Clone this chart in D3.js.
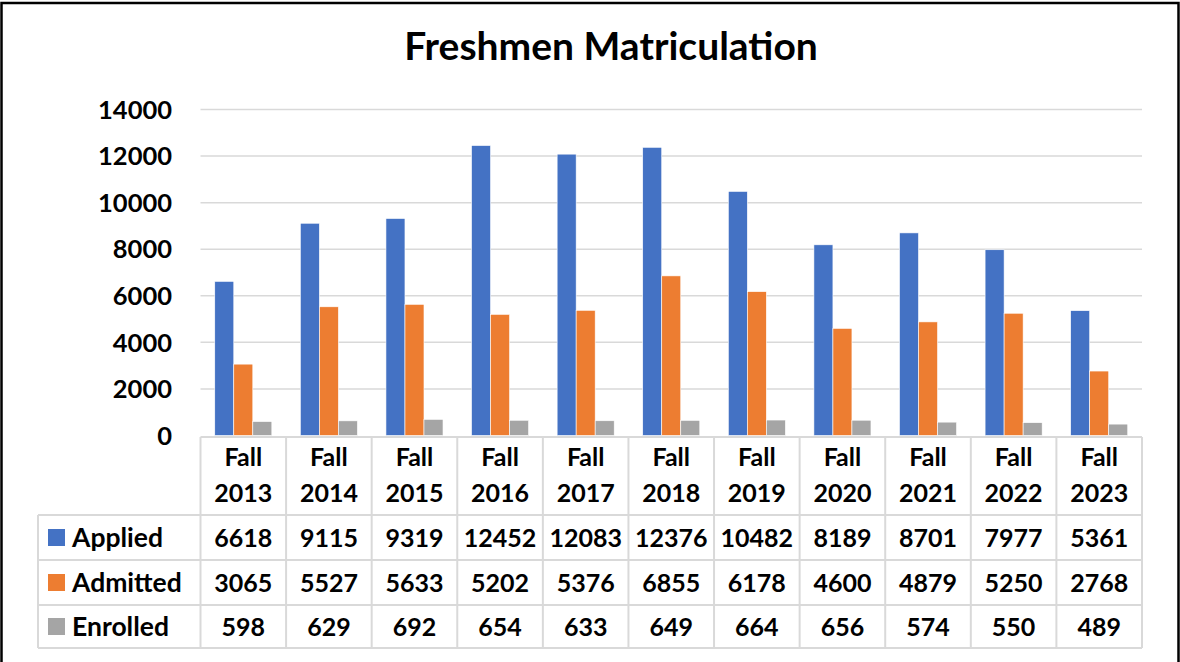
<!DOCTYPE html>
<html>
<head>
<meta charset="utf-8">
<script src="https://cdn.jsdelivr.net/npm/d3@7"></script>
<style>
  html, body { margin: 0; padding: 0; background: #fff; }
  svg { display: block; }
  text { font-family: Lato, "Open Sans", sans-serif; font-weight: bold; fill: #000; }
</style>
</head>
<body>
<script>
var categories = ["Fall 2013", "Fall 2014", "Fall 2015", "Fall 2016", "Fall 2017", "Fall 2018",
                  "Fall 2019", "Fall 2020", "Fall 2021", "Fall 2022", "Fall 2023"];
var seriesNames = ["Applied", "Admitted", "Enrolled"];
var applied  = [6618, 9115, 9319, 12452, 12083, 12376, 10482, 8189, 8701, 7977, 5361];
var admitted = [3065, 5527, 5633, 5202, 5376, 6855, 6178, 4600, 4879, 5250, 2768];
var enrolled = [598, 629, 692, 654, 633, 649, 664, 656, 574, 550, 489];
var yTicks = [0, 2000, 4000, 6000, 8000, 10000, 12000, 14000];
var colors = ["#4472C4", "#ED7D31", "#A5A5A5"];

var seriesValues = [applied, admitted, enrolled];
var rows = seriesNames.map(function (name, i) {
    return { name: name, values: seriesValues[i], color: colors[i] };
});

var width = 1180, height = 662;
var plotLeft = 200.5, plotRight = 1142, plotTop = 109.5, plotBottom = 435.5;
var tableLeft = 38;
var rowLines = [437, 515, 560, 605, 648];
var gridColor = "#d9d9d9";

var svg = d3.select("body").append("svg")
    .attr("width", width)
    .attr("height", height);

svg.append("rect")
    .attr("x", 0).attr("y", 0).attr("width", width).attr("height", height)
    .attr("fill", "#fff");

var x = d3.scaleBand().domain(categories).range([plotLeft, plotRight]);
var x1 = d3.scaleBand().domain(seriesNames).range([0, x.bandwidth()])
    .paddingInner(0).paddingOuter(0.75);
var y = d3.scaleLinear().domain([0, 14000]).range([plotBottom, plotTop]);
var color = d3.scaleOrdinal().domain(seriesNames).range(colors);

// title
svg.append("text")
    .attr("x", 611).attr("y", 60)
    .attr("text-anchor", "middle")
    .attr("font-size", 39)
    .text("Freshmen Matriculation");

// gridlines
svg.append("g").selectAll("line")
    .data(yTicks.filter(function (d) { return d > 0; }))
    .enter().append("line")
    .attr("x1", plotLeft).attr("x2", plotRight)
    .attr("y1", function (d) { return y(d); })
    .attr("y2", function (d) { return y(d); })
    .attr("stroke", gridColor).attr("stroke-width", 1.5);

// y axis labels
svg.append("g").selectAll("text")
    .data(yTicks)
    .enter().append("text")
    .attr("x", 172)
    .attr("y", function (d) { return y(d); })
    .attr("dy", "0.36em")
    .attr("text-anchor", "end")
    .attr("font-size", 25.5)
    .text(function (d) { return d; });

// bars
var groups = svg.append("g").selectAll("g")
    .data(categories)
    .enter().append("g")
    .attr("transform", function (d) { return "translate(" + x(d) + ",0)"; });

groups.selectAll("rect")
    .data(function (d, i) {
        return rows.map(function (r) { return { key: r.name, value: r.values[i] }; });
    })
    .enter().append("rect")
    .attr("x", function (d) { return x1(d.key); })
    .attr("width", x1.bandwidth())
    .attr("y", function (d) { return y(d.value); })
    .attr("height", function (d) { return plotBottom - y(d.value); })
    .attr("fill", function (d) { return color(d.key); })
    .attr("stroke", "#fff").attr("stroke-width", 0.6);

// data table grid
var table = svg.append("g")
    .attr("stroke", gridColor).attr("stroke-width", 2).attr("fill", "none");

table.append("line")
    .attr("x1", plotLeft).attr("x2", plotRight)
    .attr("y1", rowLines[0]).attr("y2", rowLines[0]);
rowLines.slice(1).forEach(function (ry) {
    table.append("line")
        .attr("x1", tableLeft).attr("x2", plotRight)
        .attr("y1", ry).attr("y2", ry);
});
table.append("line")
    .attr("x1", tableLeft).attr("x2", tableLeft)
    .attr("y1", rowLines[1]).attr("y2", rowLines[4]);
var colEdges = categories.map(function (c) { return x(c); }).concat([plotRight]);
colEdges.forEach(function (cx) {
    table.append("line")
        .attr("x1", cx).attr("x2", cx)
        .attr("y1", rowLines[0]).attr("y2", rowLines[4]);
});

// header cells (two lines: "Fall" / year)
var header = svg.append("g").selectAll("text")
    .data(categories)
    .enter().append("text")
    .attr("text-anchor", "middle")
    .attr("font-size", 25)
    .attr("transform", function (d) { return "translate(" + (x(d) + x.bandwidth() / 2) + ",0)"; });
header.append("tspan").attr("x", 0).attr("y", 466)
    .text(function (d) { return d.split(" ")[0]; });
header.append("tspan").attr("x", 0).attr("y", 502)
    .text(function (d) { return d.split(" ")[1]; });

// series rows
var rowG = svg.append("g").selectAll("g")
    .data(rows)
    .enter().append("g")
    .attr("transform", function (d, i) {
        return "translate(0," + (rowLines[i + 1] + rowLines[i + 2]) / 2 + ")";
    });

rowG.append("rect")
    .attr("x", 48).attr("y", -8.5)
    .attr("width", 17).attr("height", 17)
    .attr("fill", function (d) { return d.color; });

rowG.append("text")
    .attr("x", 72).attr("dy", "0.36em")
    .attr("font-size", 26.5)
    .text(function (d) { return d.name; });

rowG.selectAll("text.val")
    .data(function (d) { return d.values; })
    .enter().append("text")
    .attr("class", "val")
    .attr("x", function (d, i) { return x(categories[i]) + x.bandwidth() / 2; })
    .attr("dy", "0.36em")
    .attr("text-anchor", "middle")
    .attr("font-size", 25)
    .text(function (d) { return d; });

// outer frame
svg.append("path")
    .attr("d", "M1.5," + height + "V3H1178.5V" + height)
    .attr("fill", "none").attr("stroke", "#000").attr("stroke-width", 2.5);
</script>
</body>
</html>
